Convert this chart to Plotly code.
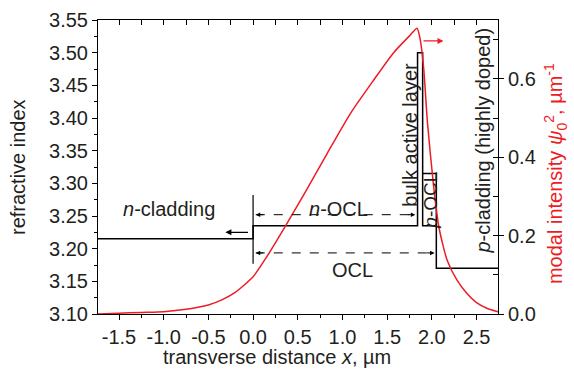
import plotly.graph_objects as go

# ---- data ----
# modal intensity psi0^2 (um^-1) vs transverse distance x (um)
x_mode = [-1.75, -1.5, -1.25, -1.0, -0.75, -0.5, -0.35, -0.2, 0.0, 0.15, 0.35, 0.6,
          0.83, 1.09, 1.35, 1.57, 1.76, 1.834, 1.87, 1.91, 1.95, 2.02, 2.08, 2.17,
          2.28, 2.39, 2.5, 2.62, 2.75]
i_mode = [0.0, 0.002, 0.004, 0.006, 0.012, 0.023, 0.036, 0.055, 0.095, 0.145, 0.22, 0.317,
          0.41, 0.512, 0.597, 0.666, 0.712, 0.729, 0.70, 0.623, 0.49, 0.325, 0.22, 0.138,
          0.087, 0.053, 0.029, 0.014, 0.005]

# refractive-index step profile
x_prof = [-1.75, 0.0, 0.0, 1.84, 1.84, 1.897, 1.897, 2.05, 2.05, 2.75]
n_prof = [3.215, 3.215, 3.235, 3.235, 3.50, 3.50, 3.235, 3.235, 3.17, 3.17]
# p-OCL box top
x_pocl = [1.897, 2.05, 2.05]
n_pocl = [3.315, 3.315, 3.235]
# interface marker at x = 0
x_iface = [0.0, 0.0]
n_iface = [3.177, 3.282]

x_ticks = [-1.5, -1.0, -0.5, 0.0, 0.5, 1.0, 1.5, 2.0, 2.5]

RED = "rgb(237,28,36)"
INK = "#231f20"
FONT = "Liberation Sans, Arial, sans-serif"
FS = 20

XR = [-1.735, 2.74]

fig = go.Figure()
fig.add_trace(go.Scatter(x=x_prof, y=n_prof, mode="lines",
                         line=dict(color="black", width=1.5), xaxis="x", yaxis="y",
                         showlegend=False, hoverinfo="skip"))
fig.add_trace(go.Scatter(x=x_pocl, y=n_pocl, mode="lines",
                         line=dict(color="black", width=1.5), xaxis="x", yaxis="y",
                         showlegend=False, hoverinfo="skip"))
fig.add_trace(go.Scatter(x=x_iface, y=n_iface, mode="lines",
                         line=dict(color="black", width=1.2), xaxis="x", yaxis="y",
                         showlegend=False, hoverinfo="skip"))
fig.add_trace(go.Scatter(x=x_mode, y=i_mode, mode="lines",
                         line=dict(color=RED, width=1.5, shape="spline", smoothing=0.6),
                         xaxis="x", yaxis="y2", showlegend=False, hoverinfo="skip"))
# invisible trace to anchor the top axis
fig.add_trace(go.Scatter(x=[XR[0]], y=[3.1], mode="markers", marker=dict(opacity=0),
                         xaxis="x2", yaxis="y", showlegend=False, hoverinfo="skip"))

ann = []
def text(x, y, s, angle=0, size=FS):
    ann.append(dict(x=x, y=y, xref="x", yref="y", text=s, showarrow=False,
                    textangle=angle, font=dict(size=size, color=INK, family=FONT),
                    xanchor="center", yanchor="middle"))

text(-0.94, 3.26, "<i>n</i>-cladding")
text(0.955, 3.26, "<i>n</i>-OCL")
text(1.107, 3.168, "OCL")
text(1.76, 3.375, "bulk active layer", angle=-90)
text(1.983, 3.274, "<i>p</i>-OCL", angle=-90, size=19)
text(2.576, 3.366, "<i>p</i>-cladding (highly doped)", angle=-90)

def arrow(x, y, ax, ay, color="black", head=2, w=1.2, size=1.0):
    ann.append(dict(x=x, y=y, ax=ax, ay=ay, xref="x", yref="y", axref="x", ayref="y",
                    text="", showarrow=True, arrowhead=head, arrowsize=size,
                    arrowwidth=w, arrowcolor=color))

def head(x, y, dx_px):
    ann.append(dict(x=x, y=y, ax=dx_px, ay=0, xref="x", yref="y",
                    text="", showarrow=True, arrowhead=2, arrowsize=0.9,
                    arrowwidth=1.0, arrowcolor="black"))

# n-cladding arrow (pointing left)
arrow(-0.31, 3.225, -0.04, 3.225)
# red arrow (pointing right -> right axis)
arrow(2.13, 3.518, 1.89, 3.518, color=RED)

shapes = []
for (x0, x1, y) in [(0.03, 1.815, 3.252), (0.03, 2.03, 3.1935)]:
    shapes.append(dict(type="line", xref="x", yref="y", x0=x0, x1=x1, y0=y, y1=y,
                       line=dict(color="black", width=1, dash="dash")))
    head(x0, y, 9)
    head(x1, y, -9)

# axis titles as annotations
ann.append(dict(x=-0.2, y=0.5, xref="paper", yref="paper", text="refractive index",
                showarrow=False, textangle=-90, font=dict(size=FS, color=INK, family=FONT),
                xanchor="center", yanchor="middle"))
ann.append(dict(x=0.4475, y=-0.145, xref="paper", yref="paper",
                text="transverse distance <i>x</i>, µm",
                showarrow=False, font=dict(size=FS, color=INK, family=FONT),
                xanchor="center", yanchor="middle"))
ann.append(dict(x=1.1425, y=0.476, xref="paper", yref="paper",
                text="modal intensity <i>ψ</i><sub>0</sub><sup>2</sup>, µm<sup>-1</sup>",
                showarrow=False, textangle=-90, font=dict(size=FS, color=RED, family=FONT),
                xanchor="center", yanchor="middle"))

fig.update_layout(
    width=574, height=374,
    margin=dict(l=98, r=76, t=20, b=60),
    paper_bgcolor="white", plot_bgcolor="white",
    font=dict(family=FONT, size=FS, color=INK),
    annotations=ann, shapes=shapes,
    xaxis=dict(range=XR, tickmode="array", tickvals=x_ticks,
               ticktext=[f"{v:.1f}" for v in x_ticks],
               ticks="outside", ticklen=5, tickcolor="black",
               minor=dict(ticks="outside", dtick=0.25, tick0=0, ticklen=3, tickcolor="black"),
               showline=True, linecolor="black", linewidth=1, showgrid=False, zeroline=False,
               tickfont=dict(size=FS, color=INK), fixedrange=True, automargin=False),
    xaxis2=dict(range=XR, overlaying="x", side="top", anchor="y",
                tickmode="linear", tick0=0, dtick=0.5, ticks="inside", ticklen=5, tickcolor="black",
                minor=dict(ticks="inside", dtick=0.25, tick0=0, ticklen=5, tickcolor="black"),
                showticklabels=False, showline=True, linecolor="black", linewidth=1,
                showgrid=False, zeroline=False, automargin=False),
    yaxis=dict(range=[3.10, 3.55], tickmode="linear", tick0=3.10, dtick=0.05, tickformat=".2f",
               ticks="outside", ticklen=5, tickcolor="black",
               minor=dict(ticks="outside", dtick=0.025, tick0=3.10, ticklen=3, tickcolor="black"),
               showline=True, linecolor="black", linewidth=1, showgrid=False, zeroline=False,
               tickfont=dict(size=FS, color=INK), automargin=False),
    yaxis2=dict(range=[0, 0.75], overlaying="y", side="right", anchor="x",
                tickmode="linear", tick0=0, dtick=0.2, tickformat=".1f",
                ticks="outside", ticklen=5, tickcolor="black",
                minor=dict(ticks="inside", dtick=0.1, tick0=0, ticklen=5, tickcolor="black"),
                showline=True, linecolor="black", linewidth=1, showgrid=False, zeroline=False,
                tickfont=dict(size=FS, color=INK), automargin=False),
)

fig.write_html("out.html", config={"displayModeBar": False},
               post_script="document.body.style.margin='0';")
